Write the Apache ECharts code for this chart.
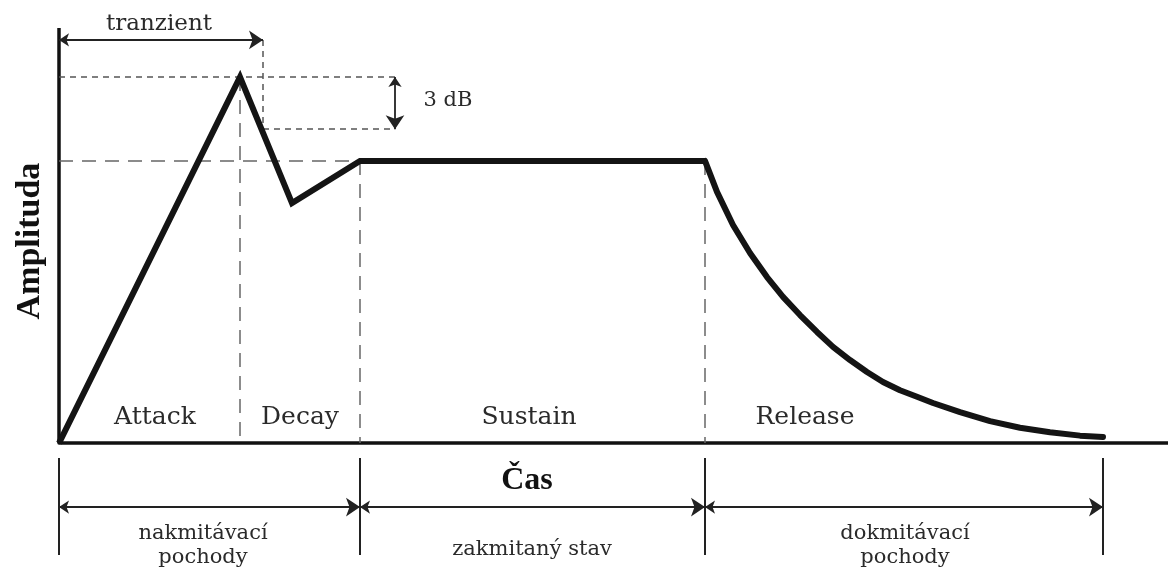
<!DOCTYPE html>
<html>
<head>
<meta charset="utf-8">
<script src="https://cdn.jsdelivr.net/npm/echarts@6/dist/echarts.min.js"></script>
<style>
html,body{margin:0;padding:0;background:#fff;}
#chart{width:1168px;height:570px;}
</style>
</head>
<body>
<div id="chart"></div>
<script>
// ---- data (time in arbitrary units, amplitude normalised) ----
const envTime = [0, 1.81, 2.33, 3.01, 6.46];
const envAmp  = [0, 0.886, 0.581, 0.683, 0.683];
const relTime = [6.46, 6.58, 6.74, 6.91, 7.08, 7.24, 7.41, 7.58, 7.74, 7.91, 8.08, 8.24, 8.41, 8.58, 8.74, 9.01, 9.31, 9.61, 9.91, 10.21, 10.44];
const relAmp  = [0.683, 0.608, 0.528, 0.460, 0.402, 0.354, 0.310, 0.269, 0.233, 0.201, 0.172, 0.148, 0.128, 0.112, 0.097, 0.075, 0.053, 0.037, 0.026, 0.018, 0.015];

const phaseNames = ['Attack', 'Decay', 'Sustain', 'Release'];
const phaseCenters = [0.96, 2.41, 4.70, 7.46];

const stageBounds = [0, 3.01, 6.46, 10.44];
const stageNames = ['nakmitávací\npochody', 'zakmitaný stav', 'dokmitávací\npochody'];

const peakAmp = 0.886;
const sustainAmp = 0.683;
const dbLowAmp = 0.760;
const transientEnd = 2.04;
const dbArrowX = 3.36;
const transientArrowAmp = 0.976;

const axisTitleX = 'Čas';
const axisTitleY = 'Amplituda';
const transientLabel = 'tranzient';
const dbLabel = '3 dB';

// ---- helpers ----
function seg(x1, y1, x2, y2) { return { coords: [[x1, y1], [x2, y2]] }; }
const zip = (a, b) => a.map((v, i) => [v, b[i]]);

const FONT = 'DejaVu Serif';
const TXT = '#2a2a2a';

const longDash = [
  seg(0, sustainAmp, envTime[3], sustainAmp),
  seg(envTime[1], peakAmp, envTime[1], 0),
  seg(envTime[3], sustainAmp, envTime[3], 0),
  seg(envTime[4], sustainAmp, envTime[4], 0)
];
const shortDash = [
  seg(0, peakAmp, dbArrowX, peakAmp),
  seg(transientEnd, dbLowAmp, dbArrowX, dbLowAmp),
  seg(transientEnd, transientArrowAmp, transientEnd, dbLowAmp)
];
const arrowY = -0.155;
const arrows = [
  seg(0, transientArrowAmp, transientEnd, transientArrowAmp),
  seg(dbArrowX, peakAmp, dbArrowX, dbLowAmp)
];
for (let i = 0; i < stageBounds.length - 1; i++) {
  arrows.push(seg(stageBounds[i], arrowY, stageBounds[i + 1], arrowY));
}
const ticks = stageBounds.map(x => seg(x, -0.036, x, -0.271));

const labels = [];
phaseNames.forEach((n, i) => labels.push({
  name: n, value: [phaseCenters[i], 0.063],
  label: { fontSize: 25 }
}));
labels.push({ name: transientLabel, value: [1.0, 1.014], label: { fontSize: 23 } });
labels.push({ name: dbLabel, value: [3.89, 0.830], label: { fontSize: 21 } });
labels.push({ name: axisTitleX, value: [4.68, -0.092],
  label: { fontSize: 32, fontFamily: 'Liberation Serif', fontWeight: 'bold', color: '#111' } });
labels.push({ name: axisTitleY, value: [-0.29, 0.489],
  label: { fontSize: 34, fontFamily: 'Liberation Serif', fontWeight: 'bold', rotate: 90, color: '#111' } });
const stageCenters = [1.44, 4.73, 8.46];
const stageYs = [-0.249, -0.257, -0.249];
stageNames.forEach((n, i) => labels.push({
  name: n, value: [stageCenters[i], stageYs[i]],
  label: { fontSize: 21, lineHeight: 24 }
}));

const chart = echarts.init(document.getElementById('chart'), null, { renderer: 'canvas' });
chart.setOption({
  animation: false,
  backgroundColor: '#fff',
  grid: { left: 59, right: 0, top: 30, bottom: 3, containLabel: false },
  xAxis: {
    type: 'value', min: 0, max: 11.09,
    axisLine: { show: true, onZero: true, lineStyle: { color: '#111', width: 3.5 } },
    axisTick: { show: false }, axisLabel: { show: false }, splitLine: { show: false }
  },
  yAxis: {
    type: 'value', min: -0.3, max: 1.0,
    axisLine: { show: false }, axisTick: { show: false },
    axisLabel: { show: false }, splitLine: { show: false }
  },
  series: [
    {
      type: 'lines', coordinateSystem: 'cartesian2d', silent: true, clip: false,
      lineStyle: { color: '#111', width: 3.5, opacity: 1 },
      data: [seg(0, 0, 0, 1.005)]
    },
    {
      type: 'lines', coordinateSystem: 'cartesian2d', silent: true,
      lineStyle: { color: '#666', width: 1.5, type: [14, 9], opacity: 1 },
      data: longDash
    },
    {
      type: 'lines', coordinateSystem: 'cartesian2d', silent: true,
      lineStyle: { color: '#555', width: 1.5, type: [6, 5], opacity: 1 },
      data: shortDash
    },
    {
      type: 'lines', coordinateSystem: 'cartesian2d', silent: true,
      symbol: ['arrow', 'arrow'], symbolSize: [10, 14],
      lineStyle: { color: '#222', width: 1.8, opacity: 1 },
      itemStyle: { color: '#222' },
      data: arrows
    },
    {
      type: 'lines', coordinateSystem: 'cartesian2d', silent: true,
      lineStyle: { color: '#222', width: 2, opacity: 1 },
      data: ticks
    },
    {
      type: 'line', silent: true, symbol: 'none', clip: false,
      lineStyle: { color: '#141414', width: 6, join: 'miter', cap: 'butt' },
      data: zip(envTime, envAmp)
    },
    {
      type: 'line', silent: true, symbol: 'none', clip: false,
      smooth: false,
      lineStyle: { color: '#141414', width: 6, cap: 'round', join: 'round' },
      data: zip(relTime, relAmp)
    },
    {
      type: 'scatter', silent: true, clip: false, symbolSize: 0,
      itemStyle: { opacity: 1 },
      label: {
        show: true, position: [0, 0], formatter: p => p.name, opacity: 1,
        fontFamily: FONT, color: TXT, align: 'center', verticalAlign: 'middle'
      },
      data: labels
    }
  ]
});
</script>
</body>
</html>
